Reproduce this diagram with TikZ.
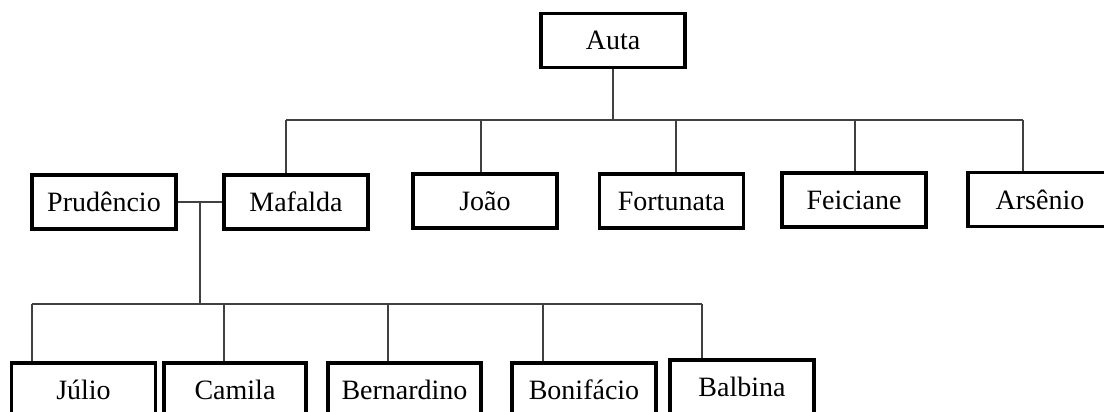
\documentclass[tikz,border=0pt]{standalone}
\usepackage{fontspec}
\setmainfont{Liberation Serif}
\begin{document}
\begin{tikzpicture}[x=1pt,y=-1pt,
  person/.style={draw=black,line width=3.2pt,fill=white,minimum height=54pt,
    minimum width=144pt,inner sep=0pt,font=\fontsize{28}{32}\selectfont},
  link/.style={draw=black!75,line width=1.1pt}]
\useasboundingbox (0,0) rectangle (1104,412);
\clip (0,0) rectangle (1104,412);
\fill[white] (0,0) rectangle (1104,412);
% nodes
\node[person] (auta) at (613,40.5) {Auta};
\node[person] (prud) at (104,202) {Prudêncio};
\node[person] (maf) at (296,202) {Mafalda};
\node[person] (joao) at (485,201) {João};
\node[person] (fort) at (671.5,201) {Fortunata};
\node[person] (feic) at (854,200) {Feiciane};
\node[person] (arse) at (1040,199.5) {Arsênio};
\node[person] (jul) at (83.5,390) {Júlio};
\node[person,minimum width=142pt] (cam) at (235,390) {Camila};
\node[person,minimum width=153pt] (bern) at (404.5,390) {Bernardino};
\node[person] (boni) at (584,390) {Bonifácio};
\node[person] (balb) at (742,387) {Balbina};
% top bus
\coordinate (ta) at (613,120);
\coordinate (bM) at (286,120);
\coordinate (bJ) at (481,120);
\coordinate (bF) at (676,120);
\coordinate (bFe) at (855,120);
\coordinate (bA) at (1023,120);
\draw[link] (auta.south) -- (ta);
\draw[link] (bM) -- (bA);
\draw[link] (bM) -- (bM |- maf.north);
\draw[link] (bJ) -- (bJ |- joao.north);
\draw[link] (bF) -- (bF |- fort.north);
\draw[link] (bFe) -- (bFe |- feic.north);
\draw[link] (bA) -- (bA |- arse.north);
% marriage
\draw[link] (prud.east) -- (maf.west);
\coordinate (mm) at (200,202);
\coordinate (cb) at (200,304);
\draw[link] (mm) -- (cb);
% bottom bus
\coordinate (cJ) at (32,304);
\coordinate (cC) at (224,304);
\coordinate (cB) at (388,304);
\coordinate (cBo) at (543,304);
\coordinate (cBa) at (702,304);
\draw[link] (cJ) -- (cBa);
\draw[link] (cJ) -- (cJ |- jul.north);
\draw[link] (cC) -- (cC |- cam.north);
\draw[link] (cB) -- (cB |- bern.north);
\draw[link] (cBo) -- (cBo |- boni.north);
\draw[link] (cBa) -- (cBa |- balb.north);
\end{tikzpicture}
\end{document}
